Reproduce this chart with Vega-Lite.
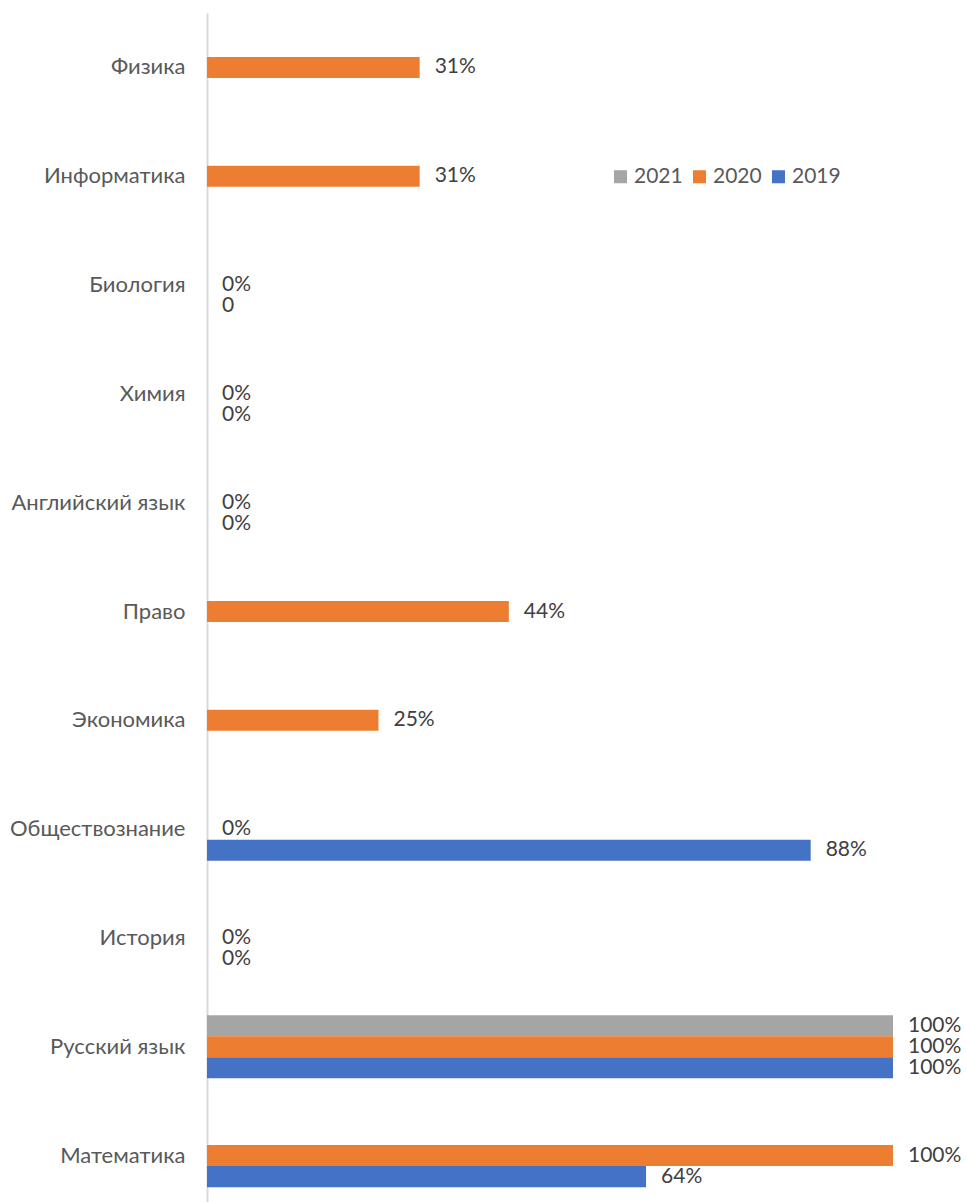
{
  "$schema": "https://vega.github.io/schema/vega-lite/v6.json",
  "autosize": "none",
  "padding": {"left": 207, "top": 13, "right": 73, "bottom": 0},
  "width": 686,
  "height": 1197,
  "background": "white",
  "config": {
    "view": {"stroke": null},
    "font": "Lato"
  },
  "data": {
    "values": [
      {"subject": "Физика", "year": "2020", "value": 0.31, "label": "31%"},
      {"subject": "Информатика", "year": "2020", "value": 0.31, "label": "31%"},
      {"subject": "Биология", "year": "2020", "value": 0, "label": "0%"},
      {"subject": "Биология", "year": "2019", "value": 0, "label": "0"},
      {"subject": "Химия", "year": "2020", "value": 0, "label": "0%"},
      {"subject": "Химия", "year": "2019", "value": 0, "label": "0%"},
      {"subject": "Английский язык", "year": "2020", "value": 0, "label": "0%"},
      {"subject": "Английский язык", "year": "2019", "value": 0, "label": "0%"},
      {"subject": "Право", "year": "2020", "value": 0.44, "label": "44%"},
      {"subject": "Экономика", "year": "2020", "value": 0.25, "label": "25%"},
      {"subject": "Обществознание", "year": "2020", "value": 0, "label": "0%"},
      {"subject": "Обществознание", "year": "2019", "value": 0.88, "label": "88%"},
      {"subject": "История", "year": "2020", "value": 0, "label": "0%"},
      {"subject": "История", "year": "2019", "value": 0, "label": "0%"},
      {"subject": "Русский язык", "year": "2021", "value": 1, "label": "100%"},
      {"subject": "Русский язык", "year": "2020", "value": 1, "label": "100%"},
      {"subject": "Русский язык", "year": "2019", "value": 1, "label": "100%"},
      {"subject": "Математика", "year": "2020", "value": 1, "label": "100%"},
      {"subject": "Математика", "year": "2019", "value": 0.64, "label": "64%"}
    ]
  },
  "encoding": {
    "y": {
      "field": "subject",
      "type": "nominal",
      "sort": ["Физика", "Информатика", "Биология", "Химия", "Английский язык", "Право", "Экономика", "Обществознание", "История", "Русский язык", "Математика"],
      "scale": {"paddingInner": 0.42, "paddingOuter": 0.21},
      "axis": {
        "title": null,
        "ticks": false,
        "grid": false,
        "labelPadding": 22,
        "labelFontSize": 22,
        "labelColor": "#595959",
        "labelFont": "Lato",
        "domainColor": "#D9D9D9",
        "domainWidth": 2
      }
    },
    "yOffset": {
      "field": "year",
      "type": "nominal",
      "scale": {"domain": ["2021", "2020", "2019"], "paddingInner": 0, "paddingOuter": 0}
    },
    "x": {
      "field": "value",
      "type": "quantitative",
      "scale": {"domain": [0, 1]},
      "axis": null
    }
  },
  "layer": [
    {
      "mark": {"type": "bar"},
      "encoding": {
        "color": {
          "field": "year",
          "type": "nominal",
          "scale": {"domain": ["2021", "2020", "2019"], "range": ["#A5A5A5", "#ED7D31", "#4472C4"]},
          "legend": {
            "title": null,
            "orient": "none",
            "direction": "horizontal",
            "legendX": 403,
            "legendY": 153,
            "symbolType": "square",
            "symbolSize": 169,
            "symbolStrokeWidth": 0,
            "labelFontSize": 21,
            "labelColor": "#595959",
            "labelFont": "Lato",
            "columnPadding": 6,
            "labelOffset": 3
          }
        }
      }
    },
    {
      "mark": {"type": "text", "align": "left", "baseline": "middle", "dx": 15, "fontSize": 21, "color": "#404040", "font": "Lato"},
      "encoding": {
        "text": {"field": "label"}
      }
    }
  ]
}
